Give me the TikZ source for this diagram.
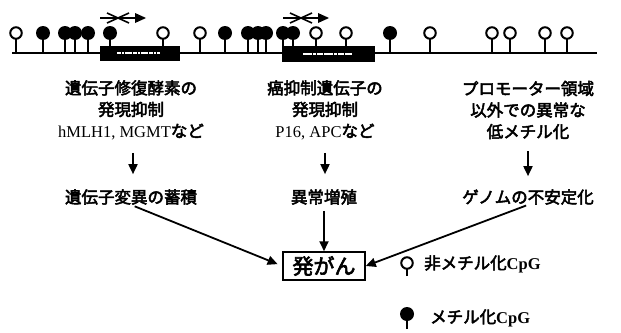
\documentclass[tikz,border=0pt]{standalone}
\usepackage{fontspec}
\setmainfont{Liberation Serif}
\newfontfamily\jp{Noto Sans CJK JP}[FakeBold=3]
\usetikzlibrary{arrows.meta,calc}
\begin{document}
\begin{tikzpicture}[x=1pt,y=-1pt,
  stem/.style={line width=2pt},
  unmeth/.style={circle, draw, fill=white, line width=2pt, inner sep=0pt, minimum size=11.5pt},
  meth/.style={circle, fill=black, inner sep=0pt, minimum size=14pt},
  genebox/.style={fill=black, inner sep=0pt},
  arr/.style={line width=1.8pt, -{Triangle[length=10pt,width=9pt]}},
  lbl/.style={font={\jp\fontsize{16.5}{21.5}\selectfont}, align=center, inner sep=0pt},
  legendtxt/.style={font={\jp\fontsize{16.5}{20}\selectfont}, anchor=west, inner sep=0pt},
  primer/.pic={
    \draw[line width=1.6pt] (0,0) -- (37,0);
    \draw[line width=1.6pt] (7,-5) -- (18,0) -- (7,5);
    \draw[line width=1.6pt] (29,-5) -- (18,0) -- (29,5);
    \fill (35,-5) -- (46,0) -- (35,5) -- cycle;
  }
]
\useasboundingbox (0,0) rectangle (621,332);

% DNA line
\draw[line width=2.5pt] (12,53) -- (597,53);

% stems
\foreach \x in {16,163,200,316,346,430,492,510,545,567,43,65,75,88,110,225,248,258,266,283,293,390}
  \draw[stem] (\x,53) -- (\x,36);

% gene boxes
\node[genebox, minimum width=80pt, minimum height=15pt] (b1) at (140,53.5) {};
\node[genebox, minimum width=93pt, minimum height=16pt] (b2) at (328.5,54) {};
\draw[white, line width=1.1pt, dash pattern=on 4pt off 1pt on 2pt off 1pt on 7pt off 1pt] (117,53) -- (160,53);
\draw[white, line width=1.1pt, dash pattern=on 9pt off 1pt on 3pt off 1pt on 6pt off 1pt] (303,54) -- (352,54);

% heads
\foreach \x [count=\i] in {43,65,75,88,110,225,248,258,266,283,293,390}
  \node[meth] (m\i) at (\x,33) {};
\foreach \x [count=\i] in {16,163,200,316,346,430,492,510,545,567}
  \node[unmeth] (u\i) at (\x,33) {};

% primer arrows
\pic at (100,18) {primer};
\pic at (283,18) {primer};

% texts
\node[lbl] (t1) at (131,110) {遺伝子修復酵素の\\発現抑制\\{\rmfamily hMLH1, MGMT}など};
\node[lbl] (t2) at (325,110) {癌抑制遺伝子の\\発現抑制\\{\rmfamily P16, APC}など};
\node[lbl] (t3) at (528,110) {プロモーター領域\\以外での異常な\\低メチル化};

\node[lbl] (r1) at (131,197) {遺伝子変異の蓄積};
\node[lbl] (r2) at (324,197) {異常増殖};
\node[lbl] (r3) at (528,197) {ゲノムの不安定化};

\node[draw, line width=1.5pt, minimum width=82pt, minimum height=28pt, inner sep=0pt,
  font={\jp\fontsize{21}{21}\selectfont}] (c) at (324,266) {発がん};

% arrows
\draw[arr, shorten <=13pt, shorten >=15pt] (t1.south -| 133,0) -- (r1.north -| 133,0);
\draw[arr, shorten <=13pt, shorten >=15pt] (t2.south) -- (t2.south |- r2.north);
\draw[arr, shorten <=12pt, shorten >=13pt] (t3.south) -- (r3.north);
\draw[arr, shorten <=6pt] (r2.south -| c.north) -- (c.north);
\draw[arr, shorten <=4pt, shorten >=5pt] (r1.south) -- (c.west);
\draw[arr, shorten <=2pt] (r3.south) -- (c.east);

% legend
\draw[stem] (407,276) -- (407,267);
\node[unmeth] (lu) at (407,263) {};
\node[legendtxt] (l1) at (424,264) {非メチル化{\rmfamily\bfseries CpG}};
\draw[stem] (407,329) -- (407,318);
\node[meth] (lm) at (407,314) {};
\node[legendtxt] (l2) at (430,318) {メチル化{\rmfamily\bfseries CpG}};
\end{tikzpicture}
\end{document}
